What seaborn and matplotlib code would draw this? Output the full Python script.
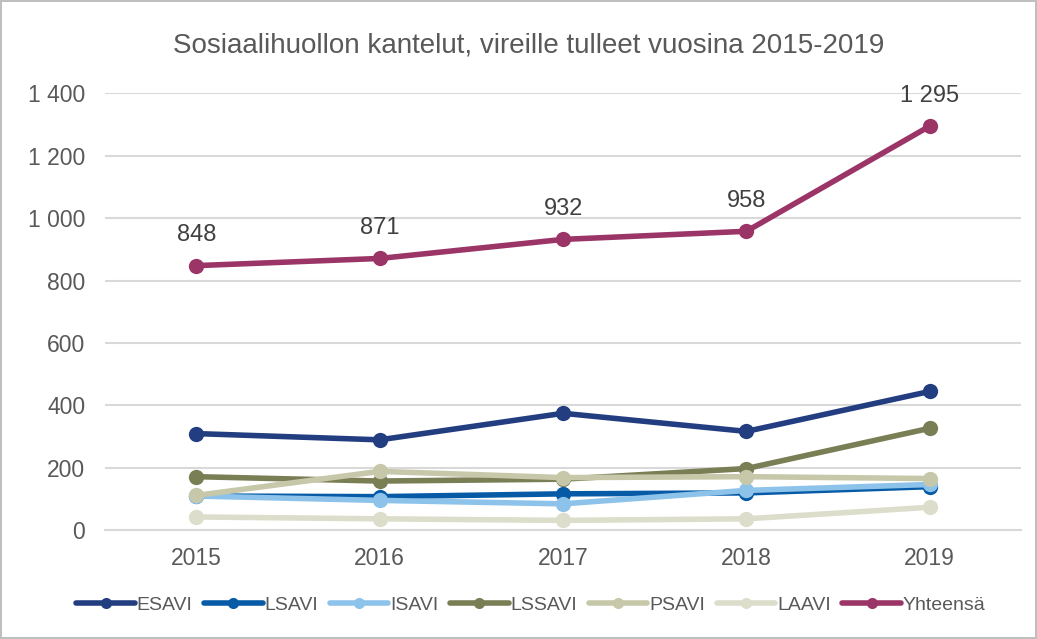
import seaborn as sns
import matplotlib.pyplot as plt
import pandas as pd

years = ["2015", "2016", "2017", "2018", "2019"]
esavi = [310, 290, 375, 317, 445]
lsavi = [110, 108, 117, 120, 140]
isavi = [110, 96, 85, 128, 147]
lssavi = [172, 158, 164, 198, 327]
psavi = [112, 189, 169, 172, 166]
laavi = [43, 37, 32, 37, 74]
yhteensa = [848, 871, 932, 958, 1295]

series = {"ESAVI": esavi, "LSAVI": lsavi, "ISAVI": isavi, "LSSAVI": lssavi,
          "PSAVI": psavi, "LAAVI": laavi, "Yhteensä": yhteensa}
colors = ["#233E80", "#075BA6", "#8DC3EA", "#7A7E55", "#C6C8A9", "#DDDDCB", "#9C3567"]

rows = []
for name, vals in series.items():
    for y, v in zip(years, vals):
        rows.append({"vuosi": y, "kantelut": v, "avi": name})
df = pd.DataFrame(rows)

sns.set_style("white")
plt.rcParams['font.family'] = ['Liberation Sans', 'DejaVu Sans']
txt = "#595959"

fig, ax = plt.subplots(figsize=(10.37, 6.39), dpi=100)
fig.subplots_adjust(left=0.101, right=0.985, top=0.854, bottom=0.17)
fig.patch.set_edgecolor("#BFBFBF")
fig.patch.set_linewidth(1.5)

sns.lineplot(data=df, x="vuosi", y="kantelut", hue="avi", hue_order=list(series.keys()),
             palette=colors, marker="o", markersize=11, markeredgewidth=0,
             linewidth=4, ax=ax, sort=False, legend=True)

for x, v in zip(years, yhteensa):
    ax.annotate(f"{v:,}".replace(",", " "), (x, v), xytext=(0, 22), textcoords="offset points",
                ha="center", va="center", fontsize=17, color="#404040")

ax.set_xlim(-0.5, 4.5)
ax.set_ylim(0, 1400)
ax.set_yticks(range(0, 1401, 200))
ax.set_yticklabels([f"{t:,}".replace(",", " ") for t in range(0, 1401, 200)])
ax.yaxis.grid(True, color="#D9D9D9", linewidth=1.5)
ax.set_axisbelow(True)
for s in ["top", "right", "left"]:
    ax.spines[s].set_visible(False)
ax.spines["bottom"].set_color("#D9D9D9")
ax.spines["bottom"].set_linewidth(1.5)
ax.tick_params(axis="both", length=0, labelsize=16.5, labelcolor=txt)
ax.tick_params(axis="x", pad=12)
ax.tick_params(axis="y", pad=14)
ax.set_xlabel("")
ax.set_ylabel("")

fig.text(0.51, 0.929, "Sosiaalihuollon kantelut, vireille tulleet vuosina 2015-2019",
         ha="center", va="center", fontsize=20, color=txt)

handles, labels = ax.get_legend_handles_labels()
ax.get_legend().remove()
leg = fig.legend(handles, labels, loc="center", bbox_to_anchor=(0.512, 0.053), ncol=7,
                 frameon=False, fontsize=14, labelcolor=txt, handlelength=3.0,
                 handletextpad=0.1, columnspacing=0.6)
for h in leg.legend_handles:
    h.set_markersize(8)

fig.savefig("out.png", dpi=100)
